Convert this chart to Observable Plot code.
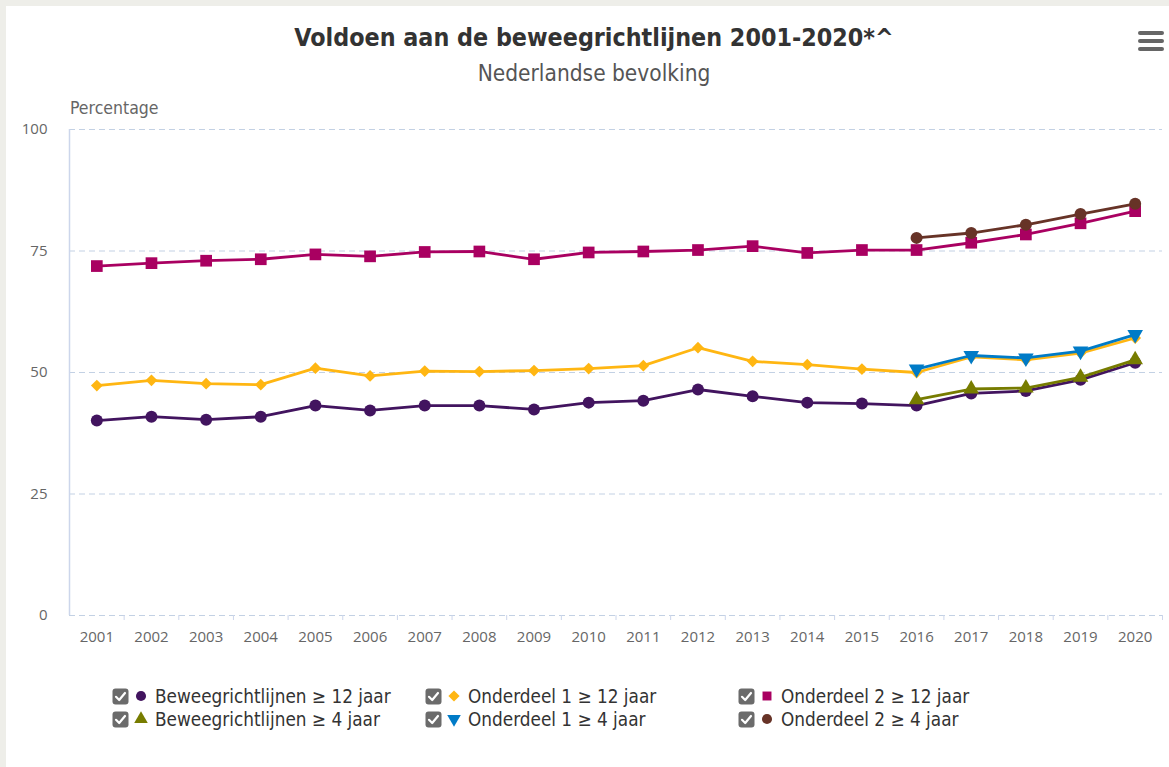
<!DOCTYPE html>
<html>
<head>
<meta charset="utf-8">
<script src="https://cdn.jsdelivr.net/npm/d3@7"></script>
<script src="https://cdn.jsdelivr.net/npm/@observablehq/plot@0.6"></script>
<style>
  html, body { margin: 0; padding: 0; }
  body { width: 1169px; height: 767px; background: #eeeee9; position: relative; overflow: hidden; }
  #panel { position: absolute; left: 6px; top: 6px; width: 1163px; height: 761px; background: #fff; }
  .cond { font-family: "Liberation Sans Narrow", "DejaVu Sans Condensed", "Roboto", sans-serif; }
  #title { position: absolute; left: 0; width: 1188px; top: 23px; text-align: center; font-size: 24.8px; font-weight: bold; color: #333; }
  #subtitle { position: absolute; left: 0; width: 1188px; top: 60px; text-align: center; font-size: 22.5px; color: #555; }
  #ylabel { position: absolute; left: 70px; top: 98px; font-size: 17.5px; color: #666; }
  #chart { position: absolute; left: 0; top: 95px; }
  #menu { position: absolute; left: 1138px; top: 31px; width: 26px; }
  #menu div { height: 4px; border-radius: 2px; background: #666; margin-bottom: 4px; }
  .leg { position: absolute; display: flex; align-items: center; font-size: 18.8px; color: #333; white-space: nowrap; }
  .leg svg { display: block; }
</style>
</head>
<body>
<div id="panel"></div>
<div id="title" class="cond">Voldoen aan de beweegrichtlijnen 2001-2020*^</div>
<div id="subtitle" class="cond">Nederlandse bevolking</div>
<div id="ylabel" class="cond">Percentage</div>
<div id="menu"><div></div><div></div><div></div></div>
<div id="chart"></div>
<div id="legend"></div>
<script>
// ---- Data ----
const years = [2001,2002,2003,2004,2005,2006,2007,2008,2009,2010,2011,2012,2013,2014,2015,2016,2017,2018,2019,2020];
const years4 = [2016,2017,2018,2019,2020];
const yTicks = [0, 25, 50, 75, 100];

const beweeg12 = [40.1,40.9,40.3,40.9,43.2,42.2,43.2,43.2,42.4,43.8,44.2,46.5,45.1,43.8,43.6,43.2,45.7,46.2,48.5,52.0];
const onderdeel1_12 = [47.3,48.4,47.7,47.5,50.9,49.3,50.3,50.2,50.4,50.8,51.4,55.1,52.3,51.6,50.7,50.0,53.2,52.6,54.0,57.1];
const onderdeel2_12 = [71.9,72.5,73.0,73.3,74.3,73.9,74.8,74.9,73.3,74.7,74.9,75.2,76.0,74.6,75.2,75.2,76.7,78.4,80.7,83.2];
const beweeg4 = [44.4,46.6,46.8,49.0,52.6];
const onderdeel1_4 = [50.7,53.5,53.0,54.4,57.8];
const onderdeel2_4 = [77.7,78.7,80.4,82.6,84.7];

const seriesNames = ["Beweegrichtlijnen \u2265 12 jaar","Onderdeel 1 \u2265 12 jaar","Onderdeel 2 \u2265 12 jaar","Beweegrichtlijnen \u2265 4 jaar","Onderdeel 1 \u2265 4 jaar","Onderdeel 2 \u2265 4 jaar"];
const seriesColors = ["#42145f","#ffb612","#a90061","#777c00","#007bc7","#673327"];
const seriesSymbols = ["circle","diamond2","square","triangle","triangle","circle"];
const seriesRotate = [0,0,0,0,180,0];
const seriesR = [6,5.3,6.6,5.8,5.8,6];

const seriesValues = [beweeg12, onderdeel1_12, onderdeel2_12, beweeg4, onderdeel1_4, onderdeel2_4];
const seriesYears = [years, years, years, years4, years4, years4];

const series = seriesNames.map((name, i) => ({
  name, color: seriesColors[i], symbol: seriesSymbols[i], rotate: seriesRotate[i], r: seriesR[i],
  data: seriesValues[i].map((v, j) => ({year: seriesYears[i][j], value: v}))
}));

const bounds = years.map(y => y + 0.5);
const xMin = years[0] - 0.5, xMax = years[years.length - 1] + 0.5;

const marks = [
  Plot.gridY(yTicks, {stroke: "#c3d1e4", strokeOpacity: 1, strokeDasharray: "6,4", strokeWidth: 1}),
  Plot.ruleX([xMin], {stroke: "#ccd6eb", strokeWidth: 1.5}),
  Plot.axisX({ticks: bounds, tickFormat: () => "", tickSize: 5, stroke: "#ccd6eb", strokeOpacity: 1, label: null}),
  Plot.axisX({ticks: years, tickFormat: d => String(d), tickSize: 0, tickPadding: 16, fontSize: 15, fill: "#666", label: null}),
  Plot.axisY({ticks: yTicks, tickSize: 0, tickPadding: 22, fontSize: 15, fill: "#666", label: null})
];
for (const s of series) {
  marks.push(Plot.lineY(s.data, {x: "year", y: "value", stroke: s.color, strokeWidth: 2.8}));
  marks.push(Plot.dot(s.data, {x: "year", y: "value", fill: s.color, symbol: s.symbol, r: s.r, rotate: s.rotate, stroke: "none"}));
}

const chart = Plot.plot({
  width: 1169,
  height: 565,
  marginTop: 34,
  marginBottom: 45,
  marginLeft: 69,
  marginRight: 7,
  style: {fontFamily: "'Open Sans', 'DejaVu Sans', sans-serif", background: "transparent", overflow: "visible"},
  x: {type: "linear", domain: [xMin, xMax], label: null},
  y: {domain: [0, 100], label: null},
  marks
});
document.getElementById("chart").appendChild(chart);

// ---- Legend ----
const legPos = [[112,687],[425,687],[738,687],[112,710],[425,710],[738,710]];
const legend = document.getElementById("legend");
series.forEach((s, i) => {
  const div = document.createElement("div");
  div.className = "leg cond";
  div.style.left = legPos[i][0] + "px";
  div.style.top = legPos[i][1] + "px";
  div.style.height = "18px";
  const box = `<svg width="17" height="17" viewBox="0 0 17 17"><rect x="0.5" y="0.5" width="16" height="16" rx="3" fill="#6b6b6b"/><path d="M4 8.8 L7.2 12 L13 5" fill="none" stroke="#fff" stroke-width="2.2" stroke-linecap="round" stroke-linejoin="round"/></svg>`;
  const sym = d3.symbol(s.symbol === "diamond2" ? d3.symbolDiamond2 : s.symbol === "square" ? d3.symbolSquare : s.symbol === "triangle" ? d3.symbolTriangle : d3.symbolCircle, 80)();
  const mk = `<svg width="16" height="16" viewBox="-8 -8 16 16" style="margin-left:4px;margin-right:6px"><path d="${sym}" fill="${s.color}" transform="rotate(${s.rotate})"/></svg>`;
  div.innerHTML = box + mk + `<span>${s.name}</span>`;
  legend.appendChild(div);
});
</script>
</body>
</html>
